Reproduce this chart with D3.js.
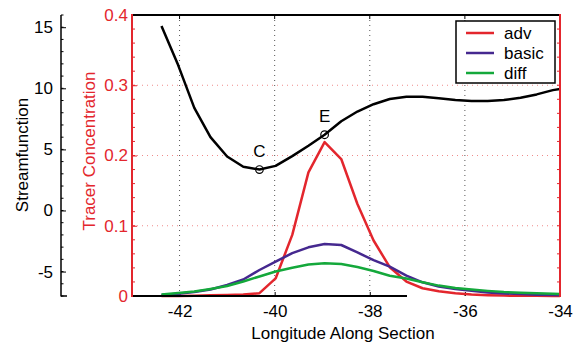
<!DOCTYPE html>
<html>
<head>
<meta charset="utf-8">
<script src="https://cdn.jsdelivr.net/npm/d3@7"></script>
<style>
  body { margin: 0; background: #fff; }
  svg text { font-family: "Liberation Sans", Arial, Helvetica, sans-serif; }
</style>
</head>
<body>
<script>
const width = 582, height = 345;
const margin = {top: 15, right: 22, bottom: 49, left: 132};

// longitude of each sample along the section
const longitude = [-42.38, -42.03, -41.69, -41.35, -41.00, -40.66, -40.32, -39.98, -39.63, -39.29,
                   -38.95, -38.60, -38.26, -37.92, -37.58, -37.23, -36.89, -36.55, -36.20, -35.86,
                   -35.52, -35.18, -34.83, -34.49, -34.15, -33.81];
// streamfunction (left black axis)
const streamfunction = [15.1, 11.9, 8.4, 6.0, 4.42, 3.58, 3.35, 3.65, 4.45, 5.3,
                        6.2, 7.3, 8.1, 8.7, 9.12, 9.3, 9.3, 9.18, 9.05, 8.97,
                        8.96, 9.05, 9.22, 9.5, 9.85, 10.05];
// tracer concentrations (red axis)
const adv = [0.0, 0.0, 0.0005, 0.001, 0.0015, 0.002, 0.004, 0.025, 0.087, 0.176,
             0.219, 0.195, 0.131, 0.079, 0.041, 0.0206, 0.011, 0.0067, 0.0038, 0.0021,
             0.0011, 0.0006, 0.0003, 0.0002, 0.0001, 0.0];
const basic = [0.0016, 0.0033, 0.0057, 0.0093, 0.0157, 0.0235, 0.037, 0.049, 0.061, 0.0693,
               0.074, 0.0726, 0.062, 0.051, 0.0417, 0.029, 0.0195, 0.0135, 0.010, 0.0075,
               0.005, 0.0037, 0.0027, 0.0018, 0.0013, 0.0007];
const diff = [0.0022, 0.0043, 0.0064, 0.010, 0.0142, 0.0206, 0.0278, 0.0349, 0.0403, 0.0448,
              0.0465, 0.0456, 0.0413, 0.0356, 0.0289, 0.0249, 0.0196, 0.0148, 0.0114, 0.0093,
              0.0073, 0.0057, 0.0047, 0.0038, 0.0031, 0.0024];
const seriesNames = ["adv", "basic", "diff"];
const seriesColors = ["#e3262d", "#45288f", "#14a83b"];
// labelled points on the streamfunction curve (index into longitude)
const pointLabels = ["C", "E"];
const pointIndex = [6, 10];

const xTicks = [-42, -40, -38, -36, -34];
const tracerTicks = [0, 0.1, 0.2, 0.3, 0.4];
const streamTicks = [-5, 0, 5, 10, 15];

const svg = d3.select("body").append("svg")
  .attr("width", width)
  .attr("height", height);

const x = d3.scaleLinear().domain([-43, -34]).range([margin.left, width - margin.right]);
const yT = d3.scaleLinear().domain([0, 0.4]).range([height - margin.bottom, margin.top]);
const yS = d3.scaleLinear().domain([-7, 16]).range([height - margin.bottom, margin.top]);

const x0 = margin.left, x1 = width - margin.right;
const y0 = height - margin.bottom, y1 = margin.top;

// plain hyphen for negative numbers, as in the original
const intFmt = d => String(d);

svg.append("defs").append("clipPath").attr("id", "plot")
  .append("rect").attr("x", x0).attr("y", y1 - 2).attr("width", x1 - x0).attr("height", y0 - y1 + 4);

// grid
svg.append("g").selectAll("line")
  .data(xTicks.slice(0, 4))
  .join("line")
  .attr("x1", d => x(d)).attr("x2", d => x(d))
  .attr("y1", y1).attr("y2", y0)
  .attr("stroke", "#555").attr("stroke-width", 1)
  .attr("stroke-dasharray", "1,4");
svg.append("g").selectAll("line")
  .data(tracerTicks.slice(1, 4))
  .join("line")
  .attr("x1", x0).attr("x2", x1)
  .attr("y1", d => yT(d)).attr("y2", d => yT(d))
  .attr("stroke", "#f08a8a").attr("stroke-width", 1)
  .attr("stroke-dasharray", "1,4");

// tracer axis (red, left of plot)
const tracerAxis = d3.axisLeft(yT).tickValues(tracerTicks)
  .tickFormat(d => d === 0 ? "0" : d3.format(".1f")(d))
  .tickSize(-5).tickPadding(4);
const gT = svg.append("g")
  .attr("transform", "translate(" + x0 + ",0)")
  .call(tracerAxis);
gT.select(".domain").remove();
gT.selectAll("line").attr("stroke", "#e3262d");
gT.selectAll("text").attr("fill", "#e3262d").attr("font-size", 17);
// minor red ticks, both sides
const minorT = d3.range(0, 0.401, 0.02);
svg.append("g").selectAll("line")
  .data(minorT)
  .join("line")
  .attr("x1", x0).attr("x2", x0 + 3)
  .attr("y1", d => yT(d)).attr("y2", d => yT(d))
  .attr("stroke", "#e3262d");
svg.append("g").selectAll("line")
  .data(minorT)
  .join("line")
  .attr("x1", x1).attr("x2", x1 - 3)
  .attr("y1", d => yT(d)).attr("y2", d => yT(d))
  .attr("stroke", "#e3262d");

// x axis
const xAxis = d3.axisBottom(x).tickValues(xTicks).tickFormat(intFmt)
  .tickSize(-4).tickPadding(9);
const gX = svg.append("g")
  .attr("transform", "translate(0," + y0 + ")")
  .call(xAxis);
gX.select(".domain").remove();
gX.selectAll("text").attr("font-size", 17).attr("fill", "#000");
svg.append("g").selectAll("line")
  .data(xTicks)
  .join("line")
  .attr("x1", d => x(d)).attr("x2", d => x(d))
  .attr("y1", y1).attr("y2", y1 + 4)
  .attr("stroke", "#000");

svg.append("text")
  .attr("x", (x0 + x1) / 2 - 3).attr("y", 339)
  .attr("text-anchor", "middle").attr("font-size", 17)
  .text("Longitude Along Section");

// streamfunction axis (black, far left)
const sx = 61;
const streamAxis = d3.axisLeft(yS).tickValues(streamTicks).tickFormat(intFmt)
  .tickSize(-5).tickPadding(8);
const gS = svg.append("g")
  .attr("transform", "translate(" + sx + ",0)")
  .call(streamAxis);
gS.select(".domain").remove();
gS.selectAll("text").attr("font-size", 17).attr("fill", "#000");
svg.append("g").selectAll("line")
  .data(d3.range(-7, 17, 1))
  .join("line")
  .attr("x1", sx).attr("x2", sx + 2.5)
  .attr("y1", d => yS(d)).attr("y2", d => yS(d))
  .attr("stroke", "#000");
svg.append("line")
  .attr("x1", sx).attr("x2", sx).attr("y1", y1).attr("y2", y0 + 0.5)
  .attr("stroke", "#000").attr("stroke-width", 1.5);
svg.append("line")
  .attr("x1", sx).attr("x2", sx + 6).attr("y1", y0).attr("y2", y0)
  .attr("stroke", "#000").attr("stroke-width", 1.5);

svg.append("text")
  .attr("transform", "translate(28,155) rotate(-90)")
  .attr("text-anchor", "middle").attr("font-size", 17)
  .text("Streamfunction");
svg.append("text")
  .attr("transform", "translate(95,151) rotate(-90)")
  .attr("text-anchor", "middle").attr("font-size", 17)
  .attr("fill", "#e3262d")
  .text("Tracer Concentration");

// tracer curves
const lineT = d3.line().x((d, i) => x(longitude[i])).y(d => yT(d));
const plot = svg.append("g").attr("clip-path", "url(#plot)");
[adv, basic, diff].forEach((s, k) => {
  plot.append("path")
    .datum(s)
    .attr("fill", "none")
    .attr("stroke", seriesColors[k])
    .attr("stroke-width", 2.5)
    .attr("stroke-linejoin", "round")
    .attr("d", lineT);
});

// streamfunction curve
const lineS = d3.line().x((d, i) => x(longitude[i])).y(d => yS(d));
plot.append("path")
  .datum(streamfunction)
  .attr("fill", "none")
  .attr("stroke", "#000")
  .attr("stroke-width", 2.5)
  .attr("stroke-linejoin", "round")
  .attr("d", lineS);

pointIndex.forEach((idx, k) => {
  const px = x(longitude[idx]), py = yS(streamfunction[idx]);
  svg.append("circle")
    .attr("cx", px).attr("cy", py).attr("r", 3.8)
    .attr("fill", "none").attr("stroke", "#000").attr("stroke-width", 1.2);
  svg.append("text")
    .attr("x", px).attr("y", py - 13)
    .attr("text-anchor", "middle").attr("font-size", 17)
    .text(pointLabels[k]);
});

// frame
svg.append("line").attr("x1", x0).attr("x2", x1).attr("y1", y1).attr("y2", y1)
  .attr("stroke", "#000").attr("stroke-width", 2);
svg.append("line").attr("x1", x0).attr("x2", 407).attr("y1", y0).attr("y2", y0)
  .attr("stroke", "#000").attr("stroke-width", 2);
svg.append("line").attr("x1", x0).attr("x2", x0).attr("y1", y1 - 1).attr("y2", y0 + 1)
  .attr("stroke", "#e3262d").attr("stroke-width", 2);
svg.append("line").attr("x1", x1).attr("x2", x1).attr("y1", y1 - 1).attr("y2", y0 + 1)
  .attr("stroke", "#e3262d").attr("stroke-width", 2);

// legend
const lg = svg.append("g");
lg.append("rect")
  .attr("x", 456).attr("y", 21).attr("width", 99).attr("height", 62)
  .attr("fill", "#fff").attr("stroke", "#000").attr("stroke-width", 1.5);
seriesNames.forEach((name, k) => {
  const ly = 33 + k * 20;
  lg.append("line")
    .attr("x1", 466).attr("x2", 494).attr("y1", ly).attr("y2", ly)
    .attr("stroke", seriesColors[k]).attr("stroke-width", 2.5);
  lg.append("text")
    .attr("x", 504).attr("y", ly).attr("dy", "0.35em")
    .attr("font-size", 17)
    .text(name);
});
</script>
</body>
</html>
